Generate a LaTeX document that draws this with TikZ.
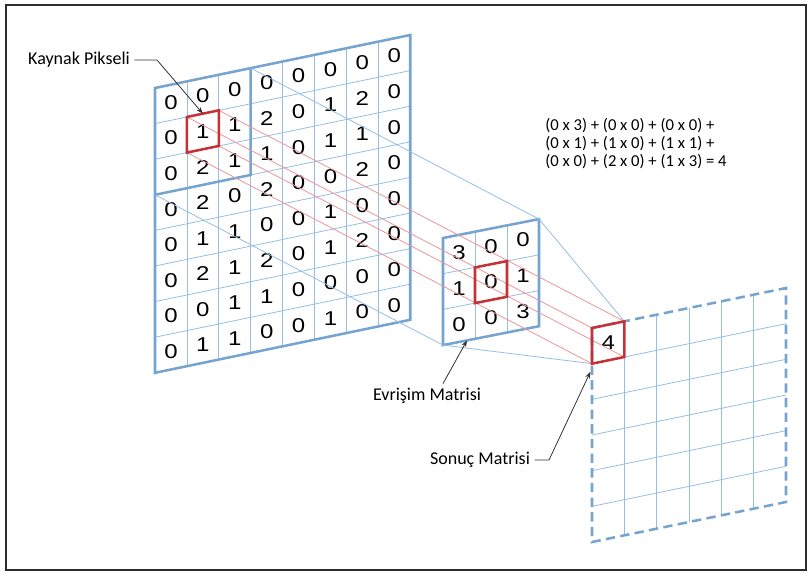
\documentclass[tikz,border=0pt]{standalone}
\usepackage{fontspec}
\setmainfont{Carlito}
\newfontfamily\digitfont{Liberation Sans}
\usetikzlibrary{arrows.meta}
\definecolor{gridblue}{RGB}{118,164,208}
\definecolor{lineblue}{RGB}{150,190,226}
\definecolor{cellred}{RGB}{196,50,56}
\definecolor{linered}{RGB}{232,150,152}
\definecolor{framegray}{RGB}{45,45,45}
\newcommand\wide[1]{\scalebox{1.2}[1]{#1}}

\begin{document}
\begin{tikzpicture}[x=0.75pt, y=-0.75pt, font=\fontsize{13.5}{16}\selectfont, >={Stealth[length=5pt,width=3.6pt]}]
  \tikzstyle{outline} = [gridblue, line width=1.9pt, line join=miter]
  \tikzstyle{cellline} = [lineblue, line width=0.6pt]
  \tikzstyle{hilite} = [cellred, line width=1.9pt, line join=miter]
  \tikzstyle{proj} = [lineblue, line width=0.6pt]
  \tikzstyle{redproj} = [linered, line width=0.6pt]
  \tikzstyle{leader} = [black!80, line width=0.6pt, ->]
  \tikzstyle{num} = [inner sep=0, font=\digitfont\fontsize{15}{15}\selectfont]

  \useasboundingbox (0,0) rectangle (810,572);
  \draw[framegray, line width=1.6pt] (6,5) rectangle (806,570);

  % source image
  \begin{scope}[shift={(155,88)}, x={(23.93pt,4.97pt)}, y={(0pt,-26.7pt)}]
    \foreach \i in {1,...,7} {
      \draw[cellline] (\i,0) -- (\i,8);
      \draw[cellline] (0,\i) -- (8,\i);
    }
    \foreach \row [count=\r from 0] in {{0,0,0,0,0,0,0,0},{0,1,1,2,0,1,2,0},{0,2,1,1,0,1,1,0},{0,2,0,2,0,0,2,0},{0,1,1,0,0,1,0,0},{0,2,1,2,0,1,2,0},{0,0,1,1,0,0,0,0},{0,1,1,0,0,1,0,0}}
      \foreach \v [count=\c from 0] in \row
        \node[num] at (\c+0.5,\r+0.5) {\wide{\v}};
    \draw[outline] (0,0) -- (8,0) -- (8,8) -- (0,8) -- cycle;
    \draw[outline] (3,0) -- (3,3) -- (0,3);
    \coordinate (blk-tr) at (3,0);
    \coordinate (blk-bl) at (0,3);
    \coordinate (s-tl) at (1,1);
    \coordinate (s-tr) at (2,1);
    \coordinate (s-br) at (2,2);
    \coordinate (s-bl) at (1,2);
    \coordinate (s-hit) at (1.5,1);
  \end{scope}

  % kernel
  \begin{scope}[shift={(443,238)}, x={(24pt,4.73pt)}, y={(0pt,-26.78pt)}]
    \foreach \i in {1,2} {
      \draw[cellline] (\i,0) -- (\i,3);
      \draw[cellline] (0,\i) -- (3,\i);
    }
    \foreach \row [count=\r from 0] in {{3,0,0},{1,0,1},{0,0,3}}
      \foreach \v [count=\c from 0] in \row
        \node[num] at (\c+0.5,\r+0.5) {\wide{\v}};
    \draw[outline] (0,0) -- (3,0) -- (3,3) -- (0,3) -- cycle;
    \coordinate (k-tr) at (3,0);
    \coordinate (k-bl) at (0,3);
    \coordinate (k-hit) at (0.75,3);
  \end{scope}

  % result
  \begin{scope}[shift={(592,328)}, x={(24.25pt,5pt)}, y={(0pt,-26.75pt)}]
    \foreach \i in {1,...,5} {
      \draw[cellline] (\i,0) -- (\i,6);
      \draw[cellline] (0,\i) -- (6,\i);
    }
    \draw[outline, dash pattern=on 7pt off 4pt, line cap=butt] (0,0) -- (6,0) -- (6,6) -- (0,6) -- cycle;
    \coordinate (o-tl) at (0,0);
    \coordinate (o-tr) at (1,0);
    \coordinate (o-br) at (1,1);
    \coordinate (o-bl) at (0,1);
    \coordinate (o-hit) at (-0.05,1.22);
    \node[num] at (0.5,0.5) {\wide{4}};
  \end{scope}

  \draw[redproj] (s-tl) -- (o-tl);
  \draw[redproj] (s-tr) -- (o-tr);
  \draw[redproj] (s-br) -- (o-br);
  \draw[redproj] (s-bl) -- (o-bl);
  \draw[proj] (blk-tr) -- (k-tr) -- (o-tr);
  \draw[proj] (blk-bl) -- (k-bl) -- (o-bl);

  \draw[hilite] (s-tl) -- (s-tr) -- (s-br) -- (s-bl) -- cycle;
  \begin{scope}[shift={(443,238)}, x={(24pt,4.73pt)}, y={(0pt,-26.78pt)}]
    \draw[hilite] (1,1) -- (2,1) -- (2,2) -- (1,2) -- cycle;
  \end{scope}
  \draw[hilite] (o-tl) -- (o-tr) -- (o-br) -- (o-bl) -- cycle;

  \node (kaynak)  at (79,60)  {Kaynak Pikseli};
  \node (evrisim) at (427,396) {Evrişim Matrisi};
  \node (sonuc)   at (480,460) {Sonuç Matrisi};
  \node[align=left, font=\fontsize{12.5}{13.5}\selectfont] (formul) at (636,144)
    {(0 x 3) + (0 x 0) + (0 x 0) +\\(0 x 1) + (1 x 0) + (1 x 1) +\\(0 x 0) + (2 x 0) + (1 x 3) = 4};

  \coordinate (kaynak-bend) at (157,60);
  \coordinate (sonuc-bend) at (549,460);
  \draw[leader] (kaynak.east) -- (kaynak-bend) -- (s-hit);
  \draw[leader] ([xshift=12pt]evrisim.north) -- (k-hit);
  \draw[leader] (sonuc.east) -- (sonuc-bend) -- (o-hit);
\end{tikzpicture}
\end{document}
